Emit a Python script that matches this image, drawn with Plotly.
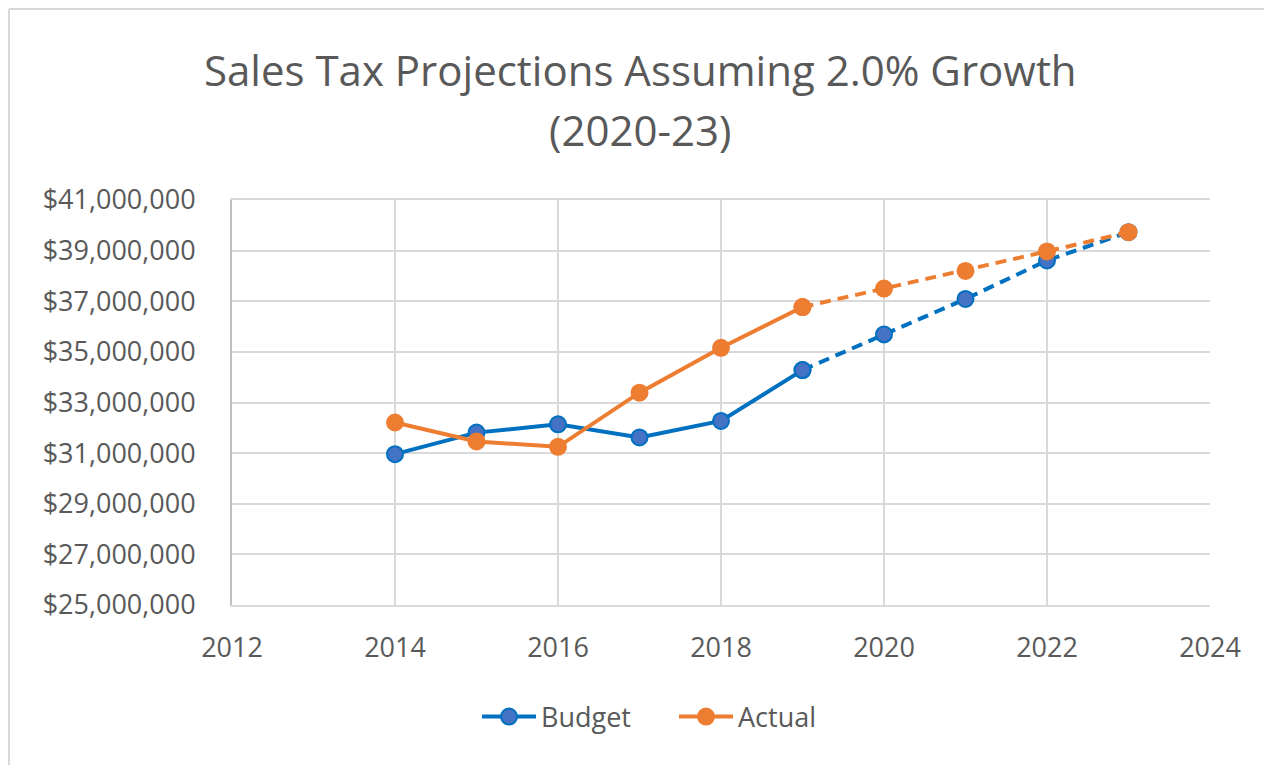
import plotly.graph_objects as go

years = [2014, 2015, 2016, 2017, 2018, 2019, 2020, 2021, 2022, 2023]
budget = [30960000, 31810000, 32140000, 31620000, 32270000, 34280000, 35690000, 37090000, 38610000, 39730000]
actual = [32210000, 31460000, 31250000, 33390000, 35160000, 36770000, 37500000, 38200000, 38970000, 39730000]
split = 5  # index of 2019, where projections (dashed) begin

title_lines = ["Sales Tax Projections Assuming 2.0% Growth", "(2020-23)"]
x_ticks = [2012, 2014, 2016, 2018, 2020, 2022, 2024]
y_ticks = [25000000, 27000000, 29000000, 31000000, 33000000, 35000000, 37000000, 39000000, 41000000]

BLUE_LINE = "#0070C0"
BLUE_FILL = "#4472C4"
ORANGE = "#ED7D31"
TXT = "#595959"
GRID = "#D9D9D9"
FONT = "Open Sans"

fig = go.Figure()

def add_series(name, vals, line_col, fill_col):
    # solid historical part
    fig.add_trace(go.Scatter(
        x=years[:split + 1], y=vals[:split + 1], name=name, mode="lines+markers",
        line=dict(color=line_col, width=4),
        marker=dict(size=16, color=fill_col, line=dict(color=line_col, width=2)),
        legendgroup=name, showlegend=True,
    ))
    # dashed projected part
    fig.add_trace(go.Scatter(
        x=years[split:], y=vals[split:], name=name, mode="lines+markers",
        line=dict(color=line_col, width=4, dash="11px,7px"),
        marker=dict(size=16, color=fill_col, line=dict(color=line_col, width=2)),
        legendgroup=name, showlegend=False,
    ))

add_series("Budget", budget, BLUE_LINE, BLUE_FILL)
add_series("Actual", actual, ORANGE, ORANGE)

OFF = 8  # page offset of the figure
W, H = 1264, 757
L, T = 232 - OFF, 200 - OFF
R = W - (1210 - OFF)
B = H - (605 - OFF)
pw, ph = W - L - R, H - T - B

def px_x(p):
    return (p - OFF - L) / pw

def px_y(p):
    return (H - B - (p - OFF)) / ph

fig.update_layout(
    width=W, height=H,
    margin=dict(l=L, r=R, t=T, b=B),
    paper_bgcolor="white", plot_bgcolor="white",
    font=dict(family=FONT, color=TXT),
    xaxis=dict(
        range=[2012, 2024], tickvals=x_ticks, tickformat="d",
        showgrid=True, gridcolor=GRID, gridwidth=2,
        showline=True, linecolor=GRID, linewidth=2, mirror=True,
        zeroline=False, tickfont=dict(size=27, color=TXT),
        ticklabelstandoff=18,
    ),
    yaxis=dict(
        range=[25000000, 41000000], tickvals=y_ticks,
        tickformat="$,d",
        showgrid=True, gridcolor=GRID, gridwidth=2,
        showline=True, linecolor="#BFBFBF", linewidth=2, mirror=False,
        zeroline=False, tickfont=dict(size=27, color=TXT),
        ticklabelstandoff=29,
    ),
    legend=dict(
        orientation="h", x=(477 - OFF) / W, xref="container", xanchor="left",
        y=1 - (717 - OFF) / H, yref="container", yanchor="middle",
        font=dict(size=27, color=TXT), itemwidth=54, entrywidth=128,
        bgcolor="rgba(0,0,0,0)",
    ),
    annotations=[
        dict(text=title_lines[0], xref="paper", yref="paper",
             x=px_x(640), y=px_y(70), xanchor="center", yanchor="middle",
             showarrow=False, font=dict(size=42, color=TXT, family=FONT)),
        dict(text=title_lines[1], xref="paper", yref="paper",
             x=px_x(640), y=px_y(130), xanchor="center", yanchor="middle",
             showarrow=False, font=dict(size=42, color=TXT, family=FONT)),
    ],
    shapes=[
        dict(type="line", xref="paper", yref="paper", layer="below",
             x0=px_x(OFF + 1), x1=px_x(W + OFF + 10), y0=px_y(OFF + 1), y1=px_y(OFF + 1),
             line=dict(color=GRID, width=2)),
        dict(type="line", xref="paper", yref="paper", layer="below",
             x0=px_x(OFF + 1), x1=px_x(OFF + 1), y0=px_y(OFF + 1), y1=px_y(H + OFF + 10),
             line=dict(color=GRID, width=2)),
    ],
)

fig.write_html("out.html")
